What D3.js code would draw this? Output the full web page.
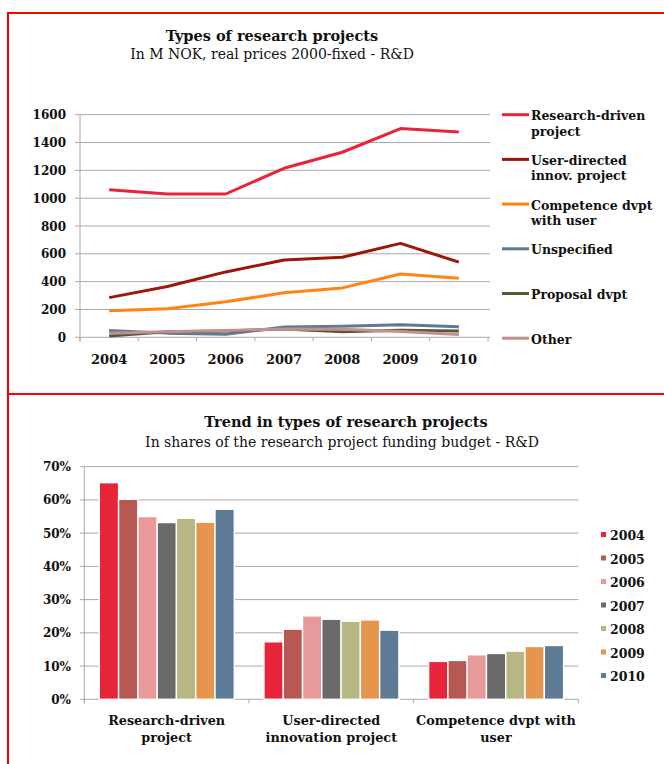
<!DOCTYPE html>
<html>
<head>
<meta charset="utf-8">
<script src="https://cdn.jsdelivr.net/npm/d3@7"></script>
<style>
  body { margin: 0; background: #fff; }
  text { font-family: "DejaVu Serif", serif; fill: #111; }
</style>
</head>
<body>
<div id="chart"></div>
<script>
// data, top chart (M NOK)
var years = ["2004", "2005", "2006", "2007", "2008", "2009", "2010"];
var researchDriven = [1060, 1030, 1030, 1215, 1330, 1500, 1475];
var userDirected = [285, 365, 470, 555, 575, 675, 540];
var competence = [190, 205, 255, 320, 355, 455, 425];
var unspecified = [48, 30, 22, 74, 80, 90, 75];
var proposal = [10, 40, 45, 60, 40, 50, 45];
var other = [30, 40, 48, 60, 58, 42, 20];
var lineTicks = [0, 200, 400, 600, 800, 1000, 1200, 1400, 1600];
var legendLines = [["Research-driven", "project"], ["User-directed", "innov. project"], ["Competence dvpt", "with user"], ["Unspecified"], ["Proposal dvpt"], ["Other"]];

// data, bottom chart (shares, %)
var groups = ["Research-driven project", "User-directed innovation project", "Competence dvpt with user"];
var groupLabels = [["Research-driven", "project"], ["User-directed", "innovation project"], ["Competence dvpt with", "user"]];
var shares = {
  "2004": [65.2, 17.3, 11.4],
  "2005": [60.2, 21.1, 11.7],
  "2006": [55.0, 25.1, 13.4],
  "2007": [53.2, 24.1, 13.8],
  "2008": [54.5, 23.5, 14.5],
  "2009": [53.3, 23.9, 15.9],
  "2010": [57.2, 20.8, 16.2]
};
var shareTicks = [0, 10, 20, 30, 40, 50, 60, 70];

var lineColors = ["#e8243a", "#9c1708", "#ff8411", "#5c7b95", "#5b5838", "#c2908e"];
var barColors = ["#e8243a", "#b85852", "#e89a9a", "#6a6a6a", "#b7b783", "#e6964c", "#5d7b94"];
var gridColor = "#a8a8a8";

var svg = d3.select("#chart").append("svg")
  .attr("width", 664)
  .attr("height", 764);

svg.append("rect").attr("width", 664).attr("height", 764).attr("fill", "#fff");

// red frame
svg.append("path")
  .attr("d", "M664,13 H8 V764 M8,394 H664")
  .attr("fill", "none")
  .attr("stroke", "#f00")
  .attr("stroke-width", 2);

// ---------- top chart ----------
var gTop = svg.append("g");

gTop.append("text").attr("x", 272).attr("y", 41).attr("text-anchor", "middle")
  .attr("font-weight", "bold").attr("font-size", 14.5).text("Types of research projects");
gTop.append("text").attr("x", 272).attr("y", 59).attr("text-anchor", "middle")
  .attr("font-size", 14).text("In M NOK, real prices 2000-fixed - R&D");

var x1 = d3.scaleBand().domain(years).range([80, 488]);
var y1 = d3.scaleLinear().domain([0, 1600]).range([337.3, 114.7]);

gTop.selectAll(".grid").data(lineTicks).enter().append("line")
  .attr("x1", 75).attr("x2", 490)
  .attr("y1", d => y1(d)).attr("y2", d => y1(d))
  .attr("stroke", gridColor).attr("stroke-width", 1);

gTop.append("line").attr("x1", 80).attr("x2", 80)
  .attr("y1", y1(0) + 4).attr("y2", y1(1600)).attr("stroke", gridColor);

gTop.selectAll(".xtick").data(years.concat(["end"])).enter().append("line")
  .attr("x1", (d, i) => 80 + i * x1.bandwidth())
  .attr("x2", (d, i) => 80 + i * x1.bandwidth())
  .attr("y1", y1(0)).attr("y2", y1(0) + 4)
  .attr("stroke", gridColor);

gTop.selectAll(".ylab").data(lineTicks).enter().append("text")
  .attr("x", 66).attr("y", d => y1(d) + 4.5)
  .attr("text-anchor", "end").attr("font-weight", "bold").attr("font-size", 12)
  .text(d => d);

gTop.selectAll(".xlab").data(years).enter().append("text")
  .attr("x", d => x1(d) + x1.bandwidth() / 2).attr("y", 364)
  .attr("text-anchor", "middle").attr("font-weight", "bold").attr("font-size", 13)
  .text(d => d);

var series = [researchDriven, userDirected, competence, unspecified, proposal, other];
var line = d3.line()
  .x((d, i) => x1(years[i]) + x1.bandwidth() / 2)
  .y(d => y1(d));

series.forEach(function(s, k) {
  gTop.append("path")
    .attr("d", line(s))
    .attr("fill", "none")
    .attr("stroke", lineColors[k])
    .attr("stroke-width", 3)
    .attr("stroke-linejoin", "round");
});

// legend top
var leg1 = gTop.selectAll(".leg").data(legendLines).enter().append("g")
  .attr("transform", (d, i) => "translate(502," + (114.7 + i * 44.7) + ")");
leg1.append("line").attr("x1", 0).attr("x2", 27).attr("y1", 0).attr("y2", 0)
  .attr("stroke", (d, i) => lineColors[i]).attr("stroke-width", 3);
leg1.each(function(d) {
  var t = d3.select(this).append("text").attr("y", 5.5)
    .attr("font-weight", "bold").attr("font-size", 12.5);
  d.forEach(function(s, j) {
    t.append("tspan").attr("x", 29).attr("dy", j ? 15.5 : 0).text(s);
  });
});

// ---------- bottom chart ----------
var gBot = svg.append("g");

gBot.append("text").attr("x", 346).attr("y", 427).attr("text-anchor", "middle")
  .attr("font-weight", "bold").attr("font-size", 14.5).text("Trend in types of research projects");
gBot.append("text").attr("x", 342).attr("y", 447).attr("text-anchor", "middle")
  .attr("font-size", 14).text("In shares of the research project funding budget - R&D");

var x2 = d3.scaleBand().domain(groups).range([84.3, 578.3]);
var xYear = d3.scaleBand().domain(years).range([15, x2.bandwidth() - 14.7]).paddingInner(0);
var y2 = d3.scaleLinear().domain([0, 70]).range([699.3, 466.7]);

gBot.selectAll(".grid").data(shareTicks).enter().append("line")
  .attr("x1", 80).attr("x2", 578.3)
  .attr("y1", d => y2(d)).attr("y2", d => y2(d))
  .attr("stroke", gridColor);

gBot.append("line").attr("x1", 84.3).attr("x2", 84.3)
  .attr("y1", y2(0) + 4).attr("y2", y2(70)).attr("stroke", gridColor);

gBot.selectAll(".xtick").data([0, 1, 2, 3]).enter().append("line")
  .attr("x1", d => 84.3 + d * x2.bandwidth()).attr("x2", d => 84.3 + d * x2.bandwidth())
  .attr("y1", y2(0)).attr("y2", y2(0) + 4)
  .attr("stroke", gridColor);

gBot.selectAll(".ylab").data(shareTicks).enter().append("text")
  .attr("x", 71).attr("y", d => y2(d) + 4.5)
  .attr("text-anchor", "end").attr("font-weight", "bold").attr("font-size", 12)
  .text(d => d + "%");

var gsel = gBot.selectAll(".grp").data(groups).enter().append("g")
  .attr("transform", d => "translate(" + x2(d) + ",0)");

gsel.each(function(g, gi) {
  d3.select(this).selectAll("rect").data(years).enter().append("rect")
    .attr("x", d => xYear(d))
    .attr("width", xYear.bandwidth())
    .attr("y", d => y2(shares[d][gi]))
    .attr("height", d => y2(0) - y2(shares[d][gi]))
    .attr("fill", (d, i) => barColors[i])
    .attr("stroke", "#fff").attr("stroke-width", 1.4);
});

gsel.each(function(g, gi) {
  var t = d3.select(this).append("text")
    .attr("text-anchor", "middle").attr("font-weight", "bold").attr("font-size", 12.8);
  groupLabels[gi].forEach(function(s, j) {
    t.append("tspan").attr("x", x2.bandwidth() / 2).attr("y", 725 + j * 17).text(s);
  });
});

// legend bottom
var leg2 = gBot.selectAll(".leg").data(years).enter().append("g")
  .attr("transform", (d, i) => "translate(601," + (535 + i * 23.5) + ")");
leg2.append("rect").attr("x", 0).attr("y", -3).attr("width", 5).attr("height", 5)
  .attr("fill", (d, i) => barColors[i]);
leg2.append("text").attr("x", 9).attr("y", 5)
  .attr("font-weight", "bold").attr("font-size", 12.5).text(d => d);
</script>
</body>
</html>
